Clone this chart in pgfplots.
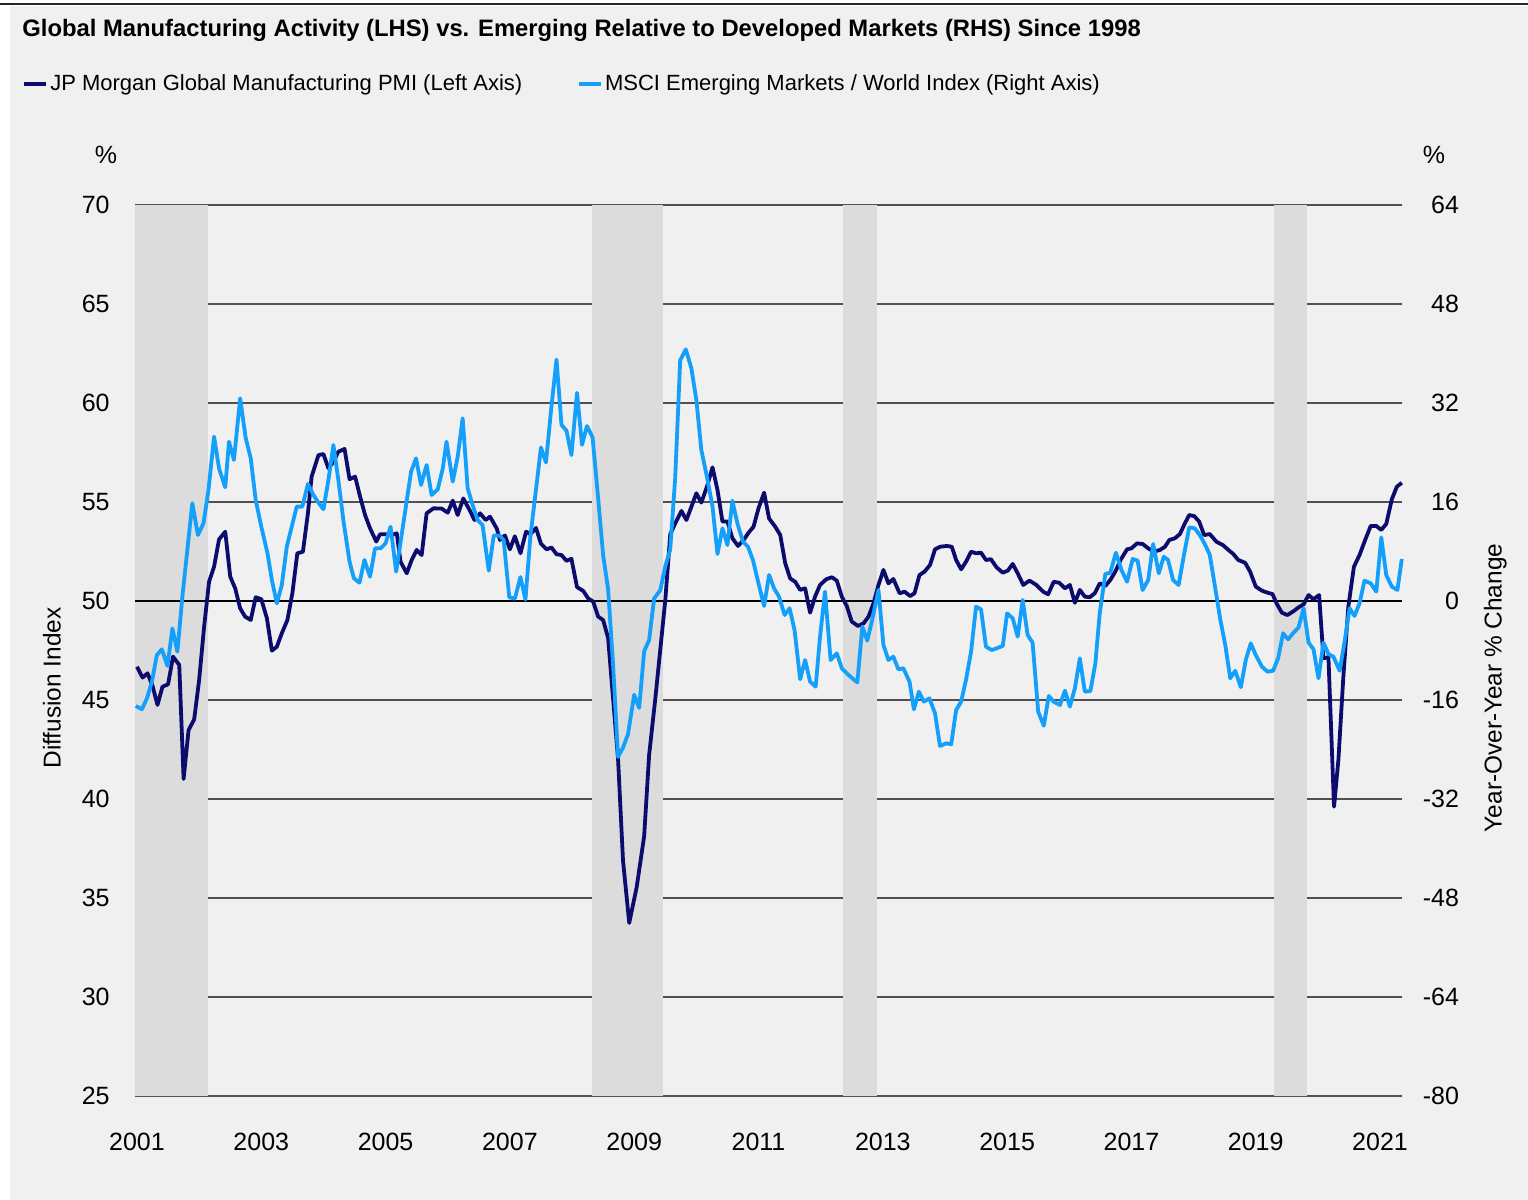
\documentclass[border=0pt]{standalone}
\usepackage{pgfplots}
\pgfplotsset{compat=1.18}
\usepackage{fontspec}
\setmainfont{Liberation Sans}
\definecolor{bg}{HTML}{F0F0F0}
\definecolor{band}{HTML}{DCDCDC}
\definecolor{navy}{RGB}{12,12,110}
\definecolor{sky}{RGB}{20,160,250}
\definecolor{gridc}{HTML}{505050}
\pgfplotsset{
  common/.style={
    scale only axis, width=633.7pt, height=445.5pt,
    at={(67.5pt,52pt)}, anchor=south west,
    xmin=2000.968, xmax=2021.36,
    axis line style={draw=none}, tick style={draw=none}, major tick length=0pt,
    ticklabel style={font=\fontsize{12.5}{15}\selectfont, inner sep=0pt},
    label style={font=\fontsize{12.2}{15}\selectfont},
    clip=false,
  }
}
\begin{document}
\begin{tikzpicture}[x=0.5pt,y=0.5pt]
\useasboundingbox (0,0) rectangle (1528,1200);
\fill[white] (0,0) rectangle (1528,1200);
\fill[bg] (10,0) rectangle (1528,1194);
\draw[line width=1pt, black!85] (0,1196) -- (1528,1196);
\node[anchor=base west, inner sep=0pt, font=\bfseries\fontsize{11.9}{14}\selectfont] at (22,1163)
  {Global Manufacturing Activity (LHS) vs. Emerging Relative to Developed Markets (RHS) Since 1998};
\node[font=\fontsize{12.5}{15}\selectfont] at (106,1045) {\%};
\node[font=\fontsize{12.5}{15}\selectfont] at (1434,1045) {\%};

\begin{axis}[common,
  ymin=25, ymax=70, ytick={25,30,...,70},
  yticklabels={25,30,35,40,45,50,55,60,65,70},
  xtick={2001,2003,...,2021},
  xticklabels={2001,2003,2005,2007,2009,2011,2013,2015,2017,2019,2021},
  xticklabel style={anchor=north, yshift=-18.5pt},
  yticklabel style={anchor=east, xshift=-12.5pt},
  ymajorgrids, grid style={gridc, line width=0.9pt},
  ylabel={Diffusion Index},
  ylabel style={at={(rel axis cs:-0.0655,0.458)}, anchor=center},
  legend columns=2,
  legend style={draw=none, fill=none, inner sep=0pt, outer sep=0pt,
    at={(rel axis cs:-0.0892,1.1358)}, anchor=west,
    font=\fontsize{11}{13}\selectfont,
    /tikz/every even column/.append style={column sep=26pt},
    nodes={inner sep=1.2pt}},
  legend image code/.code={\draw[#1, line width=2pt] (0pt,0pt) -- (11pt,0pt);},
]
\fill[band] (axis cs:2000.968,25) rectangle (axis cs:2002.14,70);
\fill[band] (axis cs:2008.32,25) rectangle (axis cs:2009.46,70);
\fill[band] (axis cs:2012.36,25) rectangle (axis cs:2012.91,70);
\fill[band] (axis cs:2019.29,25) rectangle (axis cs:2019.83,70);
\draw[black, line width=1.1pt] (axis cs:2000.968,50) -- (axis cs:2021.36,50);
\addplot[navy, line width=1.9pt, line join=round] coordinates {
(2001.00,46.68) (2001.09,46.13) (2001.17,46.35) (2001.25,45.71) (2001.33,44.75)
(2001.41,45.67) (2001.50,45.79) (2001.58,47.19) (2001.68,46.77) (2001.75,41.01)
(2001.83,43.48) (2001.92,44.02) (2002.00,46.01) (2002.08,48.70) (2002.16,50.98)
(2002.24,51.73) (2002.32,53.11) (2002.42,53.50) (2002.50,51.23) (2002.58,50.64)
(2002.66,49.63) (2002.74,49.21) (2002.83,49.04) (2002.91,50.19) (2003.00,50.09)
(2003.09,49.13) (2003.17,47.49) (2003.25,47.69) (2003.33,48.37) (2003.42,49.04)
(2003.50,50.39) (2003.58,52.41) (2003.67,52.49) (2003.75,54.43) (2003.81,56.28)
(2003.92,57.37) (2004.00,57.42) (2004.08,56.70) (2004.16,57.03) (2004.24,57.54)
(2004.34,57.68) (2004.42,56.15) (2004.51,56.28) (2004.59,55.27) (2004.67,54.34)
(2004.75,53.67) (2004.85,53.00) (2004.91,53.37) (2005.00,53.37) (2005.10,53.33)
(2005.18,53.42) (2005.24,51.99) (2005.34,51.40) (2005.42,52.07) (2005.50,52.58)
(2005.58,52.32) (2005.66,54.43) (2005.77,54.68) (2005.90,54.67) (2006.00,54.46)
(2006.08,55.07) (2006.16,54.34) (2006.25,55.18) (2006.35,54.60) (2006.43,54.09)
(2006.52,54.43) (2006.61,54.09) (2006.68,54.26) (2006.79,53.65) (2006.84,53.08)
(2006.92,53.31) (2007.00,52.61) (2007.08,53.27) (2007.17,52.41) (2007.26,53.50)
(2007.33,53.37) (2007.42,53.69) (2007.50,52.89) (2007.59,52.61) (2007.67,52.70)
(2007.75,52.36) (2007.83,52.32) (2007.91,52.03) (2007.99,52.13) (2008.08,50.70)
(2008.18,50.51) (2008.26,50.13) (2008.34,49.97) (2008.42,49.21) (2008.50,49.04)
(2008.58,48.13) (2008.66,45.08) (2008.74,42.03) (2008.82,36.88) (2008.92,33.74)
(2009.04,35.55) (2009.16,38.12) (2009.24,42.22) (2009.34,45.08) (2009.42,47.56)
(2009.50,50.03) (2009.58,53.37) (2009.66,53.92) (2009.76,54.55) (2009.84,54.09)
(2009.92,54.76) (2010.00,55.44) (2010.08,54.97) (2010.17,55.77) (2010.26,56.75)
(2010.34,55.61) (2010.42,54.01) (2010.50,54.01) (2010.58,53.17) (2010.67,52.78)
(2010.76,53.08) (2010.84,53.45) (2010.92,53.75) (2011.00,54.68) (2011.09,55.47)
(2011.17,54.17) (2011.27,53.75) (2011.35,53.33) (2011.43,51.90) (2011.51,51.14)
(2011.59,50.97) (2011.67,50.56) (2011.75,50.64) (2011.83,49.41) (2011.91,50.22)
(2011.99,50.81) (2012.09,51.10) (2012.18,51.20) (2012.26,51.03) (2012.34,50.22)
(2012.42,49.75) (2012.50,48.96) (2012.60,48.74) (2012.69,48.87) (2012.77,49.21)
(2012.85,49.88) (2012.93,50.81) (2013.01,51.57) (2013.09,50.89) (2013.17,51.11)
(2013.27,50.39) (2013.35,50.47) (2013.44,50.25) (2013.51,50.39) (2013.59,51.31)
(2013.67,51.48) (2013.76,51.82) (2013.84,52.61) (2013.92,52.74) (2014.03,52.78)
(2014.11,52.74) (2014.18,52.07) (2014.26,51.60) (2014.34,51.99) (2014.42,52.49)
(2014.50,52.41) (2014.58,52.44) (2014.66,52.07) (2014.74,52.11) (2014.83,51.70)
(2014.93,51.43) (2015.01,51.53) (2015.09,51.87) (2015.17,51.40) (2015.26,50.81)
(2015.36,51.03) (2015.47,50.81) (2015.58,50.47) (2015.66,50.34) (2015.75,50.97)
(2015.84,50.92) (2015.93,50.64) (2016.01,50.81) (2016.09,49.91) (2016.17,50.56)
(2016.25,50.22) (2016.33,50.19) (2016.41,50.39) (2016.49,50.89) (2016.58,50.76)
(2016.66,51.06) (2016.74,51.48) (2016.83,52.10) (2016.93,52.61) (2017.00,52.66)
(2017.09,52.91) (2017.18,52.88) (2017.27,52.66) (2017.36,52.49) (2017.46,52.58)
(2017.54,52.74) (2017.61,53.08) (2017.70,53.17) (2017.78,53.38) (2017.86,53.92)
(2017.93,54.34) (2018.01,54.29) (2018.09,54.01) (2018.17,53.33) (2018.26,53.38)
(2018.37,52.99) (2018.47,52.83) (2018.56,52.58) (2018.64,52.37) (2018.72,52.07)
(2018.83,51.93) (2018.91,51.48) (2019.00,50.73) (2019.10,50.52) (2019.19,50.42)
(2019.27,50.35) (2019.34,49.85) (2019.42,49.41) (2019.51,49.29) (2019.61,49.49)
(2019.69,49.68) (2019.77,49.83) (2019.85,50.30) (2019.93,50.09) (2020.02,50.30)
(2020.09,47.11) (2020.17,47.16) (2020.26,39.61) (2020.33,41.97) (2020.41,46.18)
(2020.49,49.71) (2020.58,51.73) (2020.67,52.32) (2020.76,53.08) (2020.85,53.79)
(2020.94,53.79) (2021.02,53.59) (2021.10,53.89) (2021.19,55.14) (2021.27,55.77)
(2021.35,55.97)
};
\addlegendentry{JP Morgan Global Manufacturing PMI (Left Axis)}
\addlegendimage{sky, line width=2pt}
\addlegendentry{MSCI Emerging Markets / World Index (Right Axis)}
\end{axis}

\begin{axis}[common,
  ymin=-80, ymax=64, ytick={-80,-64,...,64},
  yticklabels={-80,-64,-48,-32,-16,0,16,32,48,64},
  axis x line=none, axis y line*=right,
  yticklabel style={anchor=east, xshift=28.5pt},
  ylabel={Year-Over-Year \% Change},
  ylabel style={at={(rel axis cs:1.0734,0.458)}, anchor=center, rotate=0},
]
\addplot[sky, line width=1.9pt, line join=round] coordinates {
(2000.98,-16.97) (2001.08,-17.50) (2001.16,-15.73) (2001.24,-13.04) (2001.32,-8.73)
(2001.40,-7.81) (2001.49,-10.50) (2001.57,-4.42) (2001.65,-8.19) (2001.73,0.70)
(2001.81,8.24) (2001.89,15.79) (2001.98,10.67) (2002.07,12.55) (2002.15,17.94)
(2002.24,26.56) (2002.32,21.44) (2002.42,18.37) (2002.48,25.75) (2002.56,22.79)
(2002.66,32.75) (2002.75,26.29) (2002.83,23.06) (2002.91,16.32) (2003.00,12.01)
(2003.10,7.70) (2003.17,3.40) (2003.25,-0.38) (2003.33,2.59) (2003.41,8.78)
(2003.49,12.01) (2003.57,15.25) (2003.66,15.25) (2003.75,18.91) (2003.83,17.29)
(2003.89,16.32) (2004.00,14.82) (2004.08,19.56) (2004.16,25.21) (2004.24,19.56)
(2004.32,13.09) (2004.42,6.35) (2004.49,3.66) (2004.58,2.96) (2004.66,6.63)
(2004.75,3.93) (2004.83,8.51) (2004.92,8.51) (2005.00,9.32) (2005.08,12.01)
(2005.17,4.74) (2005.25,10.13) (2005.33,15.52) (2005.41,20.90) (2005.49,23.06)
(2005.57,18.75) (2005.66,21.98) (2005.74,17.13) (2005.84,18.05) (2005.92,21.44)
(2005.98,25.75) (2006.08,19.29) (2006.16,23.33) (2006.24,29.52) (2006.32,18.21)
(2006.40,15.52) (2006.48,13.09) (2006.56,12.28) (2006.66,4.90) (2006.74,10.59)
(2006.83,10.59) (2006.90,9.86) (2006.99,0.58) (2007.08,0.40) (2007.17,3.88)
(2007.25,0.22) (2007.33,10.47) (2007.41,17.18) (2007.50,24.81) (2007.58,22.37)
(2007.66,30.59) (2007.75,39.01) (2007.83,28.46) (2007.91,27.53) (2007.99,23.58)
(2008.08,33.65) (2008.16,25.23) (2008.24,28.28) (2008.33,26.44) (2008.42,16.57)
(2008.50,7.42) (2008.58,1.92) (2008.66,-10.26) (2008.74,-25.21) (2008.82,-23.68)
(2008.90,-21.54) (2009.00,-15.15) (2009.08,-17.28) (2009.16,-8.13) (2009.24,-6.30)
(2009.32,0.40) (2009.42,1.75) (2009.50,5.59) (2009.58,8.34) (2009.66,20.00)
(2009.74,38.90) (2009.83,40.67) (2009.92,37.60) (2010.00,32.48) (2010.08,24.40)
(2010.17,20.09) (2010.26,15.25) (2010.34,7.60) (2010.42,11.74) (2010.50,9.05)
(2010.58,16.22) (2010.66,12.55) (2010.75,9.59) (2010.83,8.78) (2010.91,6.63)
(2011.00,2.85) (2011.09,-0.81) (2011.17,4.20) (2011.25,2.05) (2011.33,0.70)
(2011.42,-2.26) (2011.50,-1.18) (2011.58,-4.69) (2011.67,-12.66) (2011.75,-9.54)
(2011.83,-13.04) (2011.92,-13.85) (2011.99,-5.77) (2012.07,1.51) (2012.16,-9.54)
(2012.26,-8.46) (2012.34,-10.88) (2012.42,-11.69) (2012.51,-12.50) (2012.59,-13.17)
(2012.67,-4.15) (2012.75,-6.41) (2012.84,-2.53) (2012.93,1.78) (2013.01,-7.11)
(2013.09,-9.54) (2013.17,-9.00) (2013.25,-11.04) (2013.33,-10.88) (2013.43,-13.04)
(2013.50,-17.51) (2013.58,-14.65) (2013.66,-16.27) (2013.75,-15.73) (2013.84,-18.16)
(2013.92,-23.43) (2014.02,-23.00) (2014.10,-23.16) (2014.18,-17.62) (2014.26,-16.27)
(2014.34,-12.66) (2014.42,-8.19) (2014.50,-0.92) (2014.58,-1.35) (2014.66,-7.38)
(2014.75,-7.92) (2014.83,-7.65) (2014.93,-7.27) (2015.00,-1.99) (2015.09,-2.80)
(2015.17,-5.77) (2015.25,0.16) (2015.33,-5.49) (2015.41,-6.73) (2015.50,-17.89)
(2015.59,-20.15) (2015.67,-15.35) (2015.75,-16.27) (2015.85,-16.81) (2015.93,-14.50)
(2016.01,-17.08) (2016.09,-14.11) (2016.17,-9.26) (2016.25,-14.65) (2016.34,-14.55)
(2016.42,-10.07) (2016.49,-1.99) (2016.58,4.36) (2016.66,4.58) (2016.75,7.81)
(2016.84,5.01) (2016.93,3.12) (2017.02,6.79) (2017.10,6.52) (2017.18,1.78)
(2017.27,3.39) (2017.35,9.21) (2017.44,4.47) (2017.52,7.16) (2017.59,6.63)
(2017.67,3.39) (2017.76,2.59) (2017.84,7.16) (2017.93,11.91) (2018.02,11.74)
(2018.10,10.67) (2018.18,9.21) (2018.26,7.50) (2018.35,2.00) (2018.43,-3.00)
(2018.51,-7.11) (2018.59,-12.50) (2018.67,-11.27) (2018.76,-13.95) (2018.84,-9.54)
(2018.92,-6.84) (2019.00,-8.73) (2019.10,-10.62) (2019.19,-11.42) (2019.28,-11.27)
(2019.36,-9.26) (2019.44,-5.22) (2019.52,-6.19) (2019.60,-5.22) (2019.69,-4.25)
(2019.77,-1.18) (2019.85,-6.73) (2019.93,-7.81) (2020.01,-12.50) (2020.09,-6.73)
(2020.17,-8.57) (2020.25,-9.00) (2020.35,-11.27) (2020.43,-6.57) (2020.51,-1.18)
(2020.59,-2.42) (2020.67,-0.38) (2020.75,3.28) (2020.85,2.85) (2020.94,1.51)
(2021.02,10.29) (2021.10,4.20) (2021.19,2.31) (2021.28,1.78) (2021.35,6.79)
};
\end{axis}
\end{tikzpicture}
\end{document}
